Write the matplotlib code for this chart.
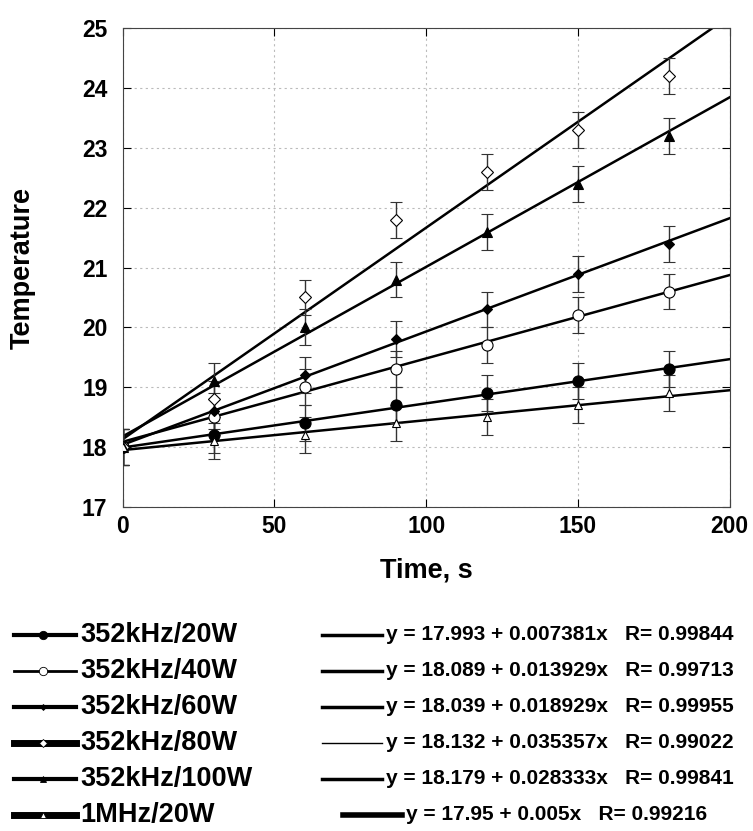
import numpy as np
import matplotlib.pyplot as plt
from matplotlib.lines import Line2D

plt.rcParams['font.family'] = ['Liberation Sans', 'DejaVu Sans']
plt.rcParams['font.weight'] = 'bold'

# data
time_s = [0, 30, 60, 90, 120, 150, 180]
labels = ["352kHz/20W", "352kHz/40W", "352kHz/60W", "352kHz/80W", "352kHz/100W", "1MHz/20W"]
temp_20w = [18.0, 18.2, 18.4, 18.7, 18.9, 19.1, 19.3]
temp_40w = [18.0, 18.5, 19.0, 19.3, 19.7, 20.2, 20.6]
temp_60w = [18.0, 18.6, 19.2, 19.8, 20.3, 20.9, 21.4]
temp_80w = [18.0, 18.8, 20.5, 21.8, 22.6, 23.3, 24.2]
temp_100w = [18.0, 19.1, 20.0, 20.8, 21.6, 22.4, 23.2]
temp_1mhz = [18.0, 18.1, 18.2, 18.4, 18.5, 18.7, 18.9]
err = 0.3

# linear fits: intercept, slope
fit_a = [17.993, 18.089, 18.039, 18.132, 18.179, 17.95]
fit_b = [0.007381, 0.013929, 0.018929, 0.035357, 0.028333, 0.005]
fit_text = ["y = 17.993 + 0.007381x   R= 0.99844",
            "y = 18.089 + 0.013929x   R= 0.99713",
            "y = 18.039 + 0.018929x   R= 0.99955",
            "y = 18.132 + 0.035357x   R= 0.99022",
            "y = 18.179 + 0.028333x   R= 0.99841",
            "y = 17.95 + 0.005x   R= 0.99216"]

series = [temp_20w, temp_40w, temp_60w, temp_80w, temp_100w, temp_1mhz]
markers = ['o', 'o', 'D', 'D', '^', '^']
mfaces = ['black', 'white', 'black', 'white', 'black', 'white']
msizes = [8, 8, 5, 6, 7, 6]

fig = plt.figure(figsize=(7.53, 8.31), dpi=100)
ax = fig.add_axes([0.163, 0.39, 0.806, 0.576])

xfit = np.linspace(0, 200, 50)
for i, ys in enumerate(series):
    ax.plot(xfit, fit_a[i] + fit_b[i] * xfit, color='black', lw=1.8, zorder=2)
    ax.errorbar(time_s, ys, yerr=err, fmt=markers[i], color='black', mfc=mfaces[i],
                mec='black', ms=msizes[i], mew=0.8, ecolor='#333333', elinewidth=1,
                capsize=4, capthick=1, zorder=3)

ax.set_xlim(0, 200)
ax.set_ylim(17, 25)
ax.set_xticks([0, 50, 100, 150, 200])
ax.set_yticks(range(17, 26))
ax.tick_params(direction='in', length=6, top=True, right=True, labelsize=16.5)
ax.tick_params(axis='y', pad=11)
ax.tick_params(axis='x', pad=6)
for lab in ax.get_xticklabels() + ax.get_yticklabels():
    lab.set_fontweight('bold')
ax.grid(True, linestyle=(0, (2, 3)), color='#bbbbbb', lw=0.8)
ax.set_axisbelow(True)
for sp in ax.spines.values():
    sp.set_color('#444444')
ax.set_xlabel("Time, s", fontsize=19.5, fontweight='bold')
ax.set_ylabel("Temperature", fontsize=19.5, fontweight='bold')
ax.xaxis.set_label_coords(0.5, -0.106)
ax.yaxis.set_label_coords(-0.143, 0.5)

# legend drawn below the axes
row_y = [635, 671, 707, 743, 779, 815]
left_lw = [3, 2, 3, 5, 3, 5]
right_lw = [2.5, 2.5, 2.5, 1, 2.5, 4]
H, W = 831.0, 753.0
for i in range(6):
    yf = 1 - row_y[i] / H
    fig.add_artist(Line2D([14 / W, 76 / W], [yf, yf], color='black', lw=left_lw[i]))
    fig.add_artist(Line2D([43 / W], [yf], marker=markers[i], color='black',
                          mfc=mfaces[i], mec='black', ms=msizes[i] - 2, mew=0.6))
    fig.text(80 / W, yf, labels[i], fontsize=19.5, fontweight='bold', va='center', ha='left')
    x0, x1 = (322, 382) if i < 5 else (343, 402)
    fig.add_artist(Line2D([x0 / W, x1 / W], [yf, yf], color='black', lw=right_lw[i]))
    fig.text((x1 + 4) / W, yf, fit_text[i], fontsize=15, fontweight='bold',
             va='center', ha='left')

fig.savefig("out.png", dpi=100)
